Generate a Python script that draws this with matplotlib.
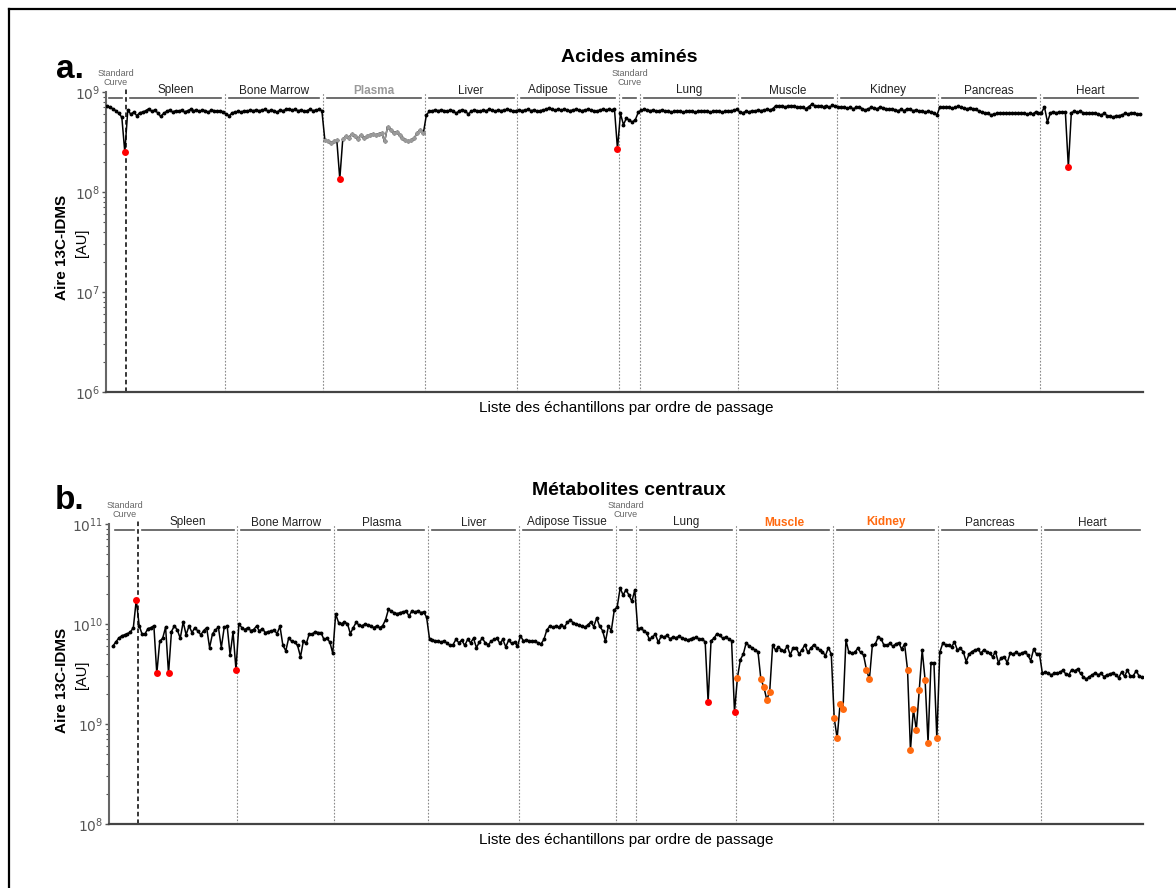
import numpy as np
import matplotlib
matplotlib.use("Agg")
import matplotlib.pyplot as plt
import matplotlib.transforms as mtransforms
from matplotlib.lines import Line2D
from matplotlib.ticker import LogLocator, FuncFormatter, NullFormatter

plt.rcParams['font.family'] = ['Liberation Sans', 'DejaVu Sans']

# Segment names (same order in both panels)
tissues = ["Standard\nCurve", "Spleen", "Bone Marrow", "Plasma", "Liver", "Adipose Tissue",
           "Standard\nCurve", "Lung", "Muscle", "Kidney", "Pancreas", "Heart"]

# Panel a: amino acids, values x1e8
a_sc1 = [7.2, 7.0, 6.8, 6.5, 6.1, 5.6, 2.5]
a_spleen = [6.6, 6.0, 6.3, 5.8, 6.2, 6.3, 6.5, 6.8, 6.4, 6.6, 6.2, 5.7, 6.1, 6.4, 6.6, 6.3, 6.5,
            6.4, 6.6, 6.3, 6.5, 6.7, 6.5, 6.6, 6.4, 6.6, 6.5, 6.3, 6.6, 6.5, 6.4, 6.5, 6.3]
a_bm = [6.0, 5.8, 6.2, 6.3, 6.4, 6.3, 6.5, 6.4, 6.6, 6.5, 6.6, 6.5, 6.6, 6.7, 6.4, 6.6, 6.5,
        6.3, 6.6, 6.5, 6.7, 6.8, 6.6, 6.7, 6.5, 6.6, 6.4, 6.5, 6.7, 6.5, 6.6, 6.7, 6.5]
a_plasma = [3.3, 3.2, 3.1, 3.2, 3.3, 1.35, 3.4, 3.6, 3.5, 3.8, 3.6, 3.4, 3.7, 3.5, 3.6, 3.7,
            3.8, 3.7, 3.8, 3.9, 3.2, 4.5, 4.2, 3.9, 4.0, 3.7, 3.5, 3.3, 3.2, 3.3, 3.5, 3.9, 4.2, 3.9]
a_liver = [5.9, 6.4, 6.5, 6.6, 6.5, 6.6, 6.5, 6.4, 6.6, 6.5, 6.1, 6.5, 6.6, 6.5, 6.0, 6.4,
           6.6, 6.5, 6.4, 6.6, 6.5, 6.7, 6.6, 6.4, 6.6, 6.5, 6.6, 6.7, 6.6, 6.4, 6.5]
a_adipose = [6.6, 6.5, 6.6, 6.7, 6.5, 6.6, 6.4, 6.5, 6.6, 6.7, 6.9, 6.7, 6.6, 6.7, 6.6, 6.7, 6.6,
             6.5, 6.6, 6.7, 6.6, 6.5, 6.6, 6.7, 6.6, 6.5, 6.4, 6.6, 6.7, 6.6, 6.7, 6.6, 6.7, 2.7]
a_sc2 = [6.1, 4.7, 5.5, 5.2, 5.0, 5.3, 6.3]
a_lung = [6.6, 6.7, 6.6, 6.5, 6.6, 6.4, 6.5, 6.6, 6.4, 6.5, 6.3, 6.4, 6.5, 6.4, 6.3, 6.4, 6.5,
          6.4, 6.3, 6.4, 6.5, 6.4, 6.5, 6.3, 6.4, 6.5, 6.4, 6.3, 6.4, 6.5, 6.4, 6.6, 6.7]
a_muscle = [6.3, 6.2, 6.4, 6.3, 6.5, 6.4, 6.6, 6.5, 6.6, 6.7, 6.6, 6.8, 7.3, 7.2, 7.3, 7.1, 7.2,
            7.3, 7.2, 7.0, 7.1, 7.0, 6.8, 7.1, 7.5, 7.3, 7.2, 7.3, 7.1, 7.3, 7.0, 7.4, 7.2]
a_kidney = [7.1, 7.0, 7.0, 6.9, 7.0, 6.8, 7.0, 7.1, 6.8, 6.6, 6.8, 7.0, 6.9, 6.8, 7.1, 6.9, 6.8,
            6.7, 6.8, 6.6, 6.5, 6.7, 6.5, 6.8, 6.7, 6.5, 6.6, 6.4, 6.5, 6.3, 6.4, 6.3, 6.2, 5.9]
a_pancreas = [7.1, 7.0, 7.0, 7.1, 6.9, 7.0, 7.2, 7.0, 6.9, 6.8, 6.9, 6.8, 6.8, 6.4, 6.3, 6.2, 6.1,
              5.9, 6.0, 6.1, 6.2, 6.1, 6.2, 6.1, 6.2, 6.2, 6.1, 6.2, 6.1, 6.0, 6.1, 6.0, 6.3, 6.2]
a_heart = [6.2, 7.1, 5.0, 6.2, 6.3, 6.2, 6.3, 6.3, 6.3, 1.78, 6.2, 6.4, 6.3, 6.4, 6.2, 6.1, 6.2,
           6.1, 6.2, 6.0, 5.9, 6.1, 5.8, 5.7, 5.6, 5.8, 5.8, 5.9, 6.1, 6.0, 6.2, 6.1, 6.0, 6.0]
a_red = [(0, 6), (3, 5), (5, 33), (11, 9)]          # (segment, index) outliers

# Panel b: central metabolites, values x1e9
b_sc1 = [6.0, 6.6, 7.2, 7.6, 7.8, 8.0, 8.3, 9.2, 17.4]
b_spleen = [9.6, 7.9, 8.0, 9.0, 9.2, 9.6, 3.2, 6.7, 7.2, 9.3, 3.2, 8.4, 9.6, 8.7, 7.2, 10.5, 7.8,
            9.6, 8.2, 9.2, 8.5, 7.8, 8.6, 9.2, 5.8, 8.0, 8.7, 9.3, 5.8, 9.3, 9.5, 4.9, 8.3, 3.5]
b_bm = [10.0, 9.2, 8.8, 9.2, 8.6, 8.8, 9.5, 8.5, 9.0, 8.2, 8.4, 8.5, 8.7, 8.0, 9.5, 6.1, 5.4,
        7.3, 6.7, 6.6, 6.1, 4.7, 6.8, 6.4, 8.0, 7.9, 8.4, 8.2, 8.2, 7.0, 7.2, 6.6, 5.1]
b_plasma = [12.6, 10.3, 10.1, 10.4, 10.1, 8.0, 9.2, 10.4, 9.7, 9.6, 10.0, 9.8, 9.6, 9.2, 9.6, 9.2,
            9.6, 11.0, 14.0, 13.4, 12.9, 12.7, 13.0, 13.2, 13.5, 12.0, 13.5, 13.2, 13.5, 13.0, 13.2, 11.7]
b_liver = [7.1, 6.9, 6.8, 6.7, 6.6, 6.8, 6.4, 6.1, 6.2, 7.0, 6.5, 6.9, 6.1, 7.0, 6.5, 7.2,
           5.8, 6.6, 7.2, 6.5, 6.2, 6.7, 7.0, 7.2, 6.4, 7.0, 5.9, 6.9, 6.4, 6.6, 6.0]
b_adipose = [7.6, 6.8, 6.9, 6.8, 6.7, 6.7, 6.5, 6.3, 7.0, 8.7, 9.5, 9.3, 9.5, 9.3, 9.7, 9.3, 10.4,
             10.9, 10.3, 10.0, 9.7, 9.5, 9.3, 9.8, 10.5, 9.4, 11.5, 9.5, 8.6, 6.7, 9.5, 8.6, 13.8]
b_sc2 = [14.8, 22.9, 19.5, 21.9, 19.5, 16.8, 21.9]
b_lung = [9.0, 9.1, 8.6, 8.2, 7.0, 7.4, 7.9, 6.6, 7.5, 7.4, 7.7, 7.1, 7.4, 7.3, 7.5, 7.3, 7.1,
          6.9, 7.1, 7.2, 7.4, 7.0, 7.1, 6.6, 1.66, 6.8, 7.2, 8.0, 7.7, 7.2, 7.4, 7.1, 6.8, 1.32]
b_muscle = [2.9, 4.4, 5.0, 6.5, 6.0, 5.8, 5.5, 5.3, 2.8, 2.35, 1.75, 2.1, 6.1, 5.5, 5.9, 5.5, 5.4,
            6.0, 4.9, 5.8, 5.8, 5.0, 5.5, 6.2, 5.2, 5.7, 6.2, 5.8, 5.5, 5.3, 4.8, 5.8, 5.0]
b_kidney = [1.15, 0.72, 1.58, 1.41, 6.9, 5.2, 5.1, 5.2, 5.7, 5.2, 4.9, 3.5, 2.8, 6.1, 6.3, 7.4,
            7.1, 6.1, 6.1, 6.4, 6.0, 6.3, 6.5, 5.6, 6.3, 3.5, 0.55, 1.41, 0.87, 2.2, 5.5, 2.75,
            0.65, 4.1, 4.1, 0.72]
b_pancreas = [5.2, 6.4, 6.2, 6.1, 5.9, 6.6, 5.5, 5.7, 5.3, 4.2, 5.0, 5.3, 5.5, 5.6, 5.1, 5.5, 5.3,
              5.1, 4.7, 5.3, 4.1, 4.6, 4.7, 4.1, 5.1, 5.0, 5.2, 5.0, 5.1, 5.3, 4.9, 4.3, 5.6, 5.0, 5.0]
b_heart = [3.2, 3.3, 3.2, 3.1, 3.2, 3.2, 3.3, 3.45, 3.15, 3.1, 3.5, 3.4, 3.55, 3.2, 2.95, 2.82,
           2.97, 3.1, 3.25, 3.1, 3.2, 2.97, 3.1, 3.15, 3.25, 3.1, 2.9, 3.3, 3.0, 3.45, 3.0, 3.05,
           3.4, 3.0, 2.95]
b_red = [(0, 8), (1, 6), (1, 10), (1, 33), (7, 24), (7, 33)]
b_orange = [(8, i) for i in [0, 8, 9, 10, 11]] + \
           [(9, i) for i in [0, 1, 2, 3, 11, 12, 25, 26, 27, 28, 29, 31, 32, 35]]

RED = '#FF0000'
ORANGE = '#FF6A10'
W, H = 1176, 888


def draw_panel(ax, segs, scale, red, orange, gray_seg, label_style, ylim, xpad):
    y = np.concatenate([np.asarray(s, float) for s in segs]) * scale
    starts = np.cumsum([0] + [len(s) for s in segs])
    x = np.arange(len(y))

    ax.plot(x, y, color='black', lw=1.1, marker='o', ms=1.8, zorder=3)
    if gray_seg is not None:
        k, skip = gray_seg
        s0 = starts[k]
        idx = np.arange(s0, starts[k + 1])
        for part in (idx[idx < s0 + skip], idx[idx > s0 + skip]):
            ax.plot(x[part], y[part], color='#9a9a9a', lw=1.1, marker='o', ms=1.8, zorder=4)

    for pts, col in ((red, RED), (orange, ORANGE)):
        gi = [starts[k] + i for k, i in pts]
        if gi:
            ax.plot(x[gi], y[gi], 'o', color=col, ms=5, zorder=5, mec='none')

    trans = mtransforms.blended_transform_factory(ax.transData, ax.transAxes)
    for k in range(1, len(segs)):
        bx = starts[k] - 0.5
        if k == 1:
            ax.add_line(Line2D([bx, bx], [0, 1.015], transform=trans, color='black',
                               lw=1.1, ls=(0, (3, 2)), clip_on=False, zorder=2))
        else:
            ax.add_line(Line2D([bx, bx], [0, 1.0], transform=trans, color='#8a8a8a',
                               lw=0.8, ls=(0, (1.5, 1.5)), clip_on=False, zorder=2))

    for k, name in enumerate(tissues):
        x0, x1 = starts[k] - 0.5, starts[k + 1] - 0.5
        gap = 1.3
        ax.add_line(Line2D([x0 + gap, x1 - gap], [0.98, 0.98], transform=trans,
                           color='#555555', lw=1.2, clip_on=False))
        if 'Standard' in name:
            ax.text((x0 + x1) / 2, 1.018, name, transform=trans, ha='center', va='bottom',
                    fontsize=6.5, color='#666666', linespacing=0.95)
        else:
            col, wt = label_style.get(name, ('#222222', 'normal'))
            ax.text((x0 + x1) / 2, 0.985, name, transform=trans, ha='center', va='bottom',
                    fontsize=8.5, color=col, fontweight=wt)

    ax.set_yscale('log')
    ax.set_ylim(*ylim)
    ax.set_xlim(xpad[0], len(y) - 1 + xpad[1])
    ax.yaxis.set_major_locator(LogLocator(base=10))
    ax.yaxis.set_minor_locator(LogLocator(base=10, subs=np.arange(2, 10)))
    ax.yaxis.set_minor_formatter(NullFormatter())
    ax.yaxis.set_major_formatter(FuncFormatter(lambda v, p: r'$10^{%d}$' % round(np.log10(v))))
    ax.tick_params(axis='y', which='major', length=3, width=1, colors='#555555',
                   labelsize=10, labelcolor='#555555', pad=1)
    ax.tick_params(axis='y', which='minor', length=2, width=0.8, colors='#555555')
    ax.tick_params(axis='x', bottom=False, labelbottom=False)
    for sp in ('top', 'right'):
        ax.spines[sp].set_visible(False)
    ax.spines['left'].set_color('#666666')
    ax.spines['left'].set_linewidth(1.5)
    ax.spines['bottom'].set_color('#444444')
    ax.spines['bottom'].set_linewidth(1.6)


fig = plt.figure(figsize=(W / 100, H / 100), dpi=100)


def axes_px(left, top, right, bottom):
    return fig.add_axes([left / W, 1 - bottom / H, (right - left) / W, (bottom - top) / H])


ax_a = axes_px(106, 92, 1143, 392)
draw_panel(ax_a, [a_sc1, a_spleen, a_bm, a_plasma, a_liver, a_adipose, a_sc2, a_lung,
                  a_muscle, a_kidney, a_pancreas, a_heart],
           1e8, a_red, [], (3, 5), {'Plasma': ('#9a9a9a', 'bold')}, (1e6, 1e9), (-0.3, 1.0))

ax_b = axes_px(109, 524, 1143, 824)
draw_panel(ax_b, [b_sc1, b_spleen, b_bm, b_plasma, b_liver, b_adipose, b_sc2, b_lung,
                  b_muscle, b_kidney, b_pancreas, b_heart],
           1e9, b_red, b_orange, None,
           {'Muscle': (ORANGE, 'bold'), 'Kidney': (ORANGE, 'bold')}, (1e8, 1e11), (-1.3, 0.3))


def ftext(px, py, s, **kw):
    fig.text(px / W, 1 - py / H, s, **kw)


ftext(629, 58, 'Acides aminés', ha='center', va='center', fontsize=14, fontweight='bold')
ftext(629, 490, 'Métabolites centraux', ha='center', va='center', fontsize=14, fontweight='bold')
ftext(56, 70, 'a.', ha='left', va='center', fontsize=24, fontweight='bold')
ftext(55, 500, 'b.', ha='left', va='center', fontsize=24, fontweight='bold')
for yc, yau in ((247, 243), (680, 675)):
    ftext(62, yc, 'Aire 13C-IDMS', ha='center', va='center', rotation=90,
          fontsize=11, fontweight='bold')
    ftext(82, yau, '[AU]', ha='center', va='center', rotation=90, fontsize=10.5)
ftext(626, 408, 'Liste des échantillons par ordre de passage', ha='center', va='center',
      fontsize=11)
ftext(626, 840, 'Liste des échantillons par ordre de passage', ha='center', va='center',
      fontsize=11)

# outer frame (top and left edges are visible in the picture)
fig.add_artist(Line2D([9 / W, 1], [1 - 9 / H, 1 - 9 / H], color='black', lw=1.6,
                      transform=fig.transFigure))
fig.add_artist(Line2D([9 / W, 9 / W], [0, 1 - 9 / H], color='black', lw=1.6,
                      transform=fig.transFigure))

fig.savefig('out.png', dpi=100)
